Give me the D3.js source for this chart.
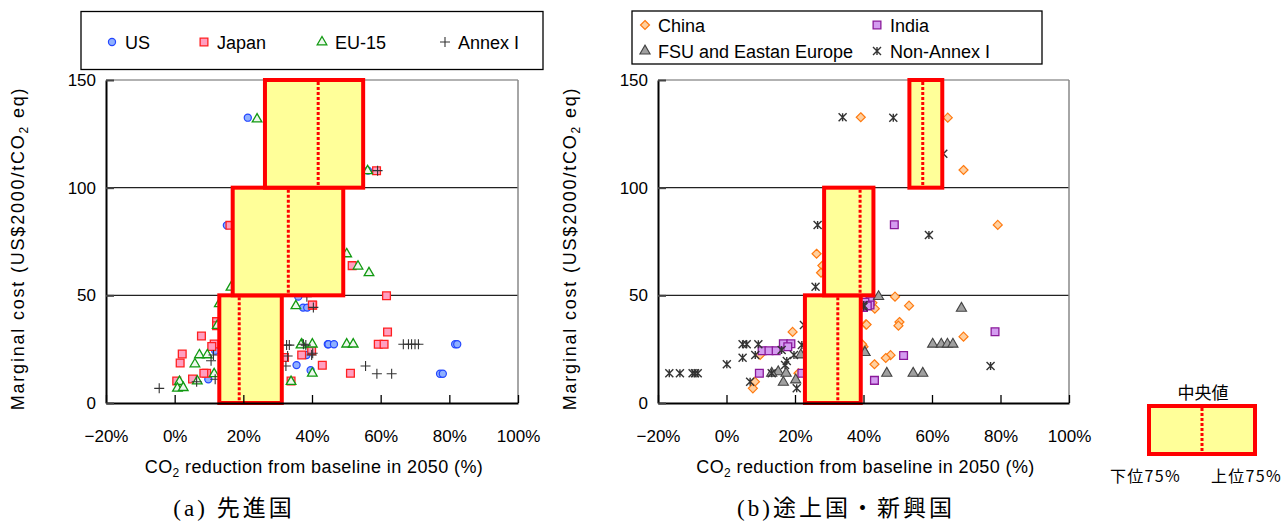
<!DOCTYPE html>
<html>
<head>
<meta charset="utf-8">
<script src="https://cdn.jsdelivr.net/npm/d3@7"></script>
<style>
  body { margin: 0; background: #fff; }
  svg { display: block; }
  text { font-family: "Liberation Sans", Arial, "Noto Sans CJK JP", sans-serif; fill: #000; }
</style>
</head>
<body>
<svg id="chart" width="1285" height="521"></svg>
<script>
// ---- data (x = CO2 reduction %, y = marginal cost US$/tCO2) ----
const usPts = [[21.3,132.5],[15.2,82.5],[56.3,107.9],[36.0,49.4],[37.4,44.3],[38.6,44.3],
  [44.6,27.3],[35.5,17.6],[39.6,15.2],[38.4,22.3],[11.8,24.3],[9.8,11.0],[44.8,27.3],
  [46.4,27.3],[81.7,27.3],[82.3,27.3],[77.3,13.6],[78.1,13.6]];
const japanPts = [[16.1,82.5],[58.8,107.9],[51.7,63.8],[61.7,49.8],[62.0,33.0],[59.3,27.3],
  [61.0,27.3],[43.0,17.5],[51.2,13.8],[40.2,45.4],[37.0,22.3],[39.9,24.3],[7.8,31.1],
  [2.2,22.8],[1.6,18.6],[0.6,10.2],[5.2,11.1],[9.3,13.8],[8.5,13.8],[11.5,27.4],[10.8,26.2],
  [12.2,37.8],[12.2,35.9],[32.0,21.1],[40.1,45.5],[33.9,10.2]];
const eu15Pts = [[24.0,131.8],[56.2,107.8],[50.1,69.2],[53.4,63.5],[56.6,60.4],[50.1,27.3],
  [52.0,27.3],[40.1,27.3],[40.1,13.8],[37.0,27.3],[16.4,53.7],[13.0,46.0],[12.4,35.9],
  [7.2,22.3],[9.5,22.3],[5.9,18.1],[1.4,9.9],[0.8,6.8],[2.5,7.1],[6.6,10.2],[11.5,13.5],
  [35.3,45.1],[36.8,26.9],[33.9,9.9]];
const annexIPts = [[59.1,107.9],[38.5,49.4],[40.4,44.4],[66.6,27.3],[68.1,27.3],[69.0,27.3],
  [70.0,27.3],[71.0,27.3],[55.6,17.2],[58.9,13.6],[63.2,13.6],[37.5,27.3],[39.9,22.3],
  [-4.5,6.8],[6.4,9.9],[10.6,19.6],[11.3,22.3],[11.8,11.0],[32.6,26.9],[33.4,26.9],
  [32.9,21.8],[32.4,17.2],[38.2,26.9],[40.2,23.1]];

const chinaPts = [[39.2,132.7],[64.6,132.5],[69.2,108.2],[79.2,82.7],[26.3,69.3],[28.0,63.8],
  [27.6,60.5],[19.3,33.0],[9.8,22.3],[8.3,9.9],[7.7,6.8],[21.0,13.8],[40.0,26.1],[40.7,36.5],
  [49.2,49.4],[53.3,45.2],[43.3,43.8],[42.6,46.5],[40.9,36.4],[50.5,37.6],[50.2,35.9],
  [69.2,30.8],[47.9,22.2],[46.5,20.9],[43.2,18.0],[39.6,27.3]];
const indiaPts = [[49.0,82.8],[41.9,47.4],[41.9,45.5],[78.4,33.1],[51.7,22.1],[43.2,10.5],
  [40.0,44.4],[16.6,27.5],[18.8,27.5],[10.4,24.3],[12.4,24.3],[14.5,24.3],[17.9,26.1],
  [9.6,13.8],[22.0,13.8],[40.4,46.8],[41.1,45.1]];
const fsuPts = [[44.4,49.4],[68.6,44.0],[60.2,27.3],[62.7,27.3],[64.5,27.3],[66.1,27.3],
  [40.4,23.5],[46.8,13.8],[54.5,13.8],[57.3,13.8],[15.1,14.5],[17.4,13.8],[16.6,9.6],
  [20.2,10.7],[13.2,13.8],[21.7,22.3],[40.4,23.4]];
const nonAnnexPts = [[33.9,132.7],[26.6,82.7],[48.7,132.5],[63.3,115.8],[59.1,78.0],[77.1,17.2],
  [40.0,45.5],[-16.7,13.8],[-13.6,13.8],[-9.9,13.8],[-9.2,13.8],[-8.4,13.8],[0.1,18.0],
  [4.7,27.3],[5.9,27.3],[9.3,27.3],[4.7,21.0],[8.4,22.3],[6.9,9.9],[13.2,13.8],[16.1,24.6],
  [17.6,19.5],[17.1,17.6],[19.7,22.3],[20.5,6.8],[22.0,26.9],[26.0,54.0],[22.6,36.2],[40.0,44.7]];

// boxes: [lower, median, upper] of reduction %, cost band [from, to]
const boxesDeveloped = [
  {band: [0, 50],    lo: 13.0, med: 18.8, hi: 31.2},
  {band: [50, 100],  lo: 16.9, med: 33.1, hi: 49.1},
  {band: [100, 150], lo: 26.3, med: 41.8, hi: 54.9}
];
const boxesDeveloping = [
  {band: [0, 50],    lo: 22.9, med: 32.5, hi: 39.2},
  {band: [50, 100],  lo: 28.5, med: 39.0, hi: 42.9},
  {band: [100, 150], lo: 53.4, med: 57.3, hi: 63.0}
];

const xTicks = [-20, 0, 20, 40, 60, 80, 100];
const yTicks = [0, 50, 100, 150];

// ---- marker painters ----
function plusPath(s) {
  return `M${-s},0H${s}M0,${-s}V${s}`;
}
function starPath(s) {
  // excel style star: an x with a vertical stroke through it
  return `M${-s},${-s}L${s},${s}M${-s},${s}L${s},${-s}M0,${-s}V${s}`;
}
function diamondPath(s) {
  return `M0,${-s}L${s},0L0,${s}L${-s},0Z`;
}

const styles = {
  us:     {d: d3.symbol(d3.symbolCircle, 40)(),   fill: "#8fb0ff", stroke: "#2346ff", sw: 1.2},
  japan:  {d: d3.symbol(d3.symbolSquare, 60)(),   fill: "#ff9fc0", stroke: "#ff2020", sw: 1.3},
  eu15:   {d: d3.symbol(d3.symbolTriangle, 40)(), fill: "#eef8ee", stroke: "#119911", sw: 1.3},
  annex:  {d: plusPath(5),                         fill: "none",    stroke: "#333", sw: 1.1},
  china:  {d: diamondPath(4.5),                    fill: "#ffd0a0", stroke: "#ff7a10", sw: 1.2},
  india:  {d: d3.symbol(d3.symbolSquare, 60)(),   fill: "#d49cf0", stroke: "#8a1a9a", sw: 1.3},
  fsu:    {d: d3.symbol(d3.symbolTriangle, 45)(), fill: "#a0a0a0", stroke: "#444", sw: 1.1},
  nonann: {d: starPath(4),                         fill: "none",    stroke: "#333", sw: 1.4}
};

const svg = d3.select("#chart");

function drawPoints(g, pts, st, x, y) {
  g.selectAll(null).data(pts).enter().append("path")
    .attr("d", st.d)
    .attr("transform", d => `translate(${x(d[0])},${y(d[1])})`)
    .attr("fill", st.fill)
    .attr("stroke", st.stroke)
    .attr("stroke-width", st.sw);
}

function drawBoxes(g, boxes, x, y) {
  boxes.forEach(b => {
    g.append("rect")
      .attr("x", x(b.lo)).attr("y", y(b.band[1]))
      .attr("width", x(b.hi) - x(b.lo))
      .attr("height", y(b.band[0]) - y(b.band[1]))
      .attr("fill", "#ffff99").attr("stroke", "#ff0000").attr("stroke-width", 4);
    g.append("line")
      .attr("x1", x(b.med)).attr("x2", x(b.med))
      .attr("y1", y(b.band[1]) + 2).attr("y2", y(b.band[0]) - 2)
      .attr("stroke", "#ff0000").attr("stroke-width", 3)
      .attr("stroke-dasharray", "3,2");
  });
}

function fmtPct(d) {
  return (d < 0 ? "\u2212" + Math.abs(d) : d) + "%";
}

function panel(left, right, series, boxes, caption, capX) {
  const x = d3.scaleLinear().domain([-20, 100]).range([left, right]);
  const y = d3.scaleLinear().domain([0, 150]).range([403, 80]);
  const g = svg.append("g");

  // gridlines + frame
  g.selectAll(null).data([50, 100]).enter().append("line")
    .attr("x1", left).attr("x2", right)
    .attr("y1", d => y(d)).attr("y2", d => y(d))
    .attr("stroke", "#222").attr("stroke-width", 1.2);
  g.append("line").attr("x1", left).attr("x2", right).attr("y1", y(150)).attr("y2", y(150))
    .attr("stroke", "#999").attr("stroke-width", 1.5);
  g.append("line").attr("x1", right).attr("x2", right).attr("y1", y(150)).attr("y2", y(0))
    .attr("stroke", "#888").attr("stroke-width", 1.5);

  series.forEach(s => drawPoints(g, s.pts, s.st, x, y));
  drawBoxes(g, boxes, x, y);

  const xa = g.append("g").attr("transform", `translate(0,${y(0)})`)
    .call(d3.axisBottom(x).tickValues(xTicks).tickFormat(fmtPct)
      .tickSizeInner(-8).tickSizeOuter(0).tickPadding(27));
  xa.select(".domain").attr("stroke", "#000").attr("stroke-width", 2);
  xa.selectAll(".tick line").attr("stroke", "#000").attr("stroke-width", 1.3);
  xa.selectAll("text").style("font-size", "17px").attr("fill", "#000");

  const ya = g.append("g").attr("transform", `translate(${left},0)`)
    .call(d3.axisLeft(y).tickValues(yTicks)
      .tickSizeInner(-8).tickSizeOuter(0).tickPadding(10));
  ya.select(".domain").attr("stroke", "#000").attr("stroke-width", 2);
  ya.selectAll(".tick line").attr("stroke", "#444").attr("stroke-width", 2);
  ya.selectAll("text").style("font-size", "17px").attr("fill", "#000");

  // axis titles
  const xt = g.append("text").attr("x", (left + right) / 2 + 2).attr("y", 473)
    .attr("text-anchor", "middle").style("font-size", "18px").style("letter-spacing", "0.4px");
  xt.append("tspan").text("CO");
  xt.append("tspan").text("2").style("font-size", "12px").attr("dy", 4);
  xt.append("tspan").text(" reduction from baseline in 2050 (%)").attr("dy", -4);

  const yt = g.append("text")
    .attr("transform", `translate(${left - 82},${(y(0) + y(150)) / 2 + 7}) rotate(-90)`)
    .attr("text-anchor", "middle").style("font-size", "18px").style("letter-spacing", "1.8px");
  yt.append("tspan").text("Marginal cost (US$2000/tCO");
  yt.append("tspan").text("2").style("font-size", "12px").attr("dy", 4);
  yt.append("tspan").text(" eq)").attr("dy", -4);

  g.append("text").attr("x", capX).attr("y", 516).attr("text-anchor", "middle")
    .style("font-family", "'Liberation Serif', 'Noto Sans CJK JP', serif")
    .style("font-size", "23px").style("letter-spacing", "3px").text(caption);
}

panel(106, 518, [
  {pts: usPts, st: styles.us},
  {pts: japanPts, st: styles.japan},
  {pts: eu15Pts, st: styles.eu15},
  {pts: annexIPts, st: styles.annex}
], boxesDeveloped, "(a)  先進国", 234);

panel(658, 1069, [
  {pts: chinaPts, st: styles.china},
  {pts: indiaPts, st: styles.india},
  {pts: fsuPts, st: styles.fsu},
  {pts: nonAnnexPts, st: styles.nonann}
], boxesDeveloping, "(b)途上国・新興国", 846);

// ---- legends ----
function legendItem(mx, my, st, label) {
  svg.append("path").attr("d", st.d).attr("transform", `translate(${mx},${my})`)
    .attr("fill", st.fill).attr("stroke", st.stroke).attr("stroke-width", st.sw);
  svg.append("text").attr("x", mx + 13).attr("y", my + 6.5).style("font-size", "18px").text(label);
}

svg.append("rect").attr("x", 81).attr("y", 11.5).attr("width", 462).attr("height", 58)
  .attr("fill", "#fff").attr("stroke", "#000").attr("stroke-width", 1.3);
legendItem(112, 42, styles.us, "US");
legendItem(204, 42, styles.japan, "Japan");
legendItem(322, 42, styles.eu15, "EU-15");
legendItem(445, 42, styles.annex, "Annex I");

svg.append("rect").attr("x", 632).attr("y", 11).attr("width", 410).attr("height", 53)
  .attr("fill", "#fff").attr("stroke", "#000").attr("stroke-width", 1.3);
legendItem(645, 25, styles.china, "China");
legendItem(877, 25, styles.india, "India");
legendItem(645, 51, styles.fsu, "FSU and Eastan Europe");
legendItem(877, 51, styles.nonann, "Non-Annex I");

// box key
const key = svg.append("g");
key.append("text").attr("x", 1203).attr("y", 399).attr("text-anchor", "middle")
  .style("font-size", "17px").style("font-family", "'Noto Sans CJK JP', sans-serif").text("中央値");
key.append("rect").attr("x", 1149).attr("y", 406).attr("width", 106).attr("height", 48)
  .attr("fill", "#ffff99").attr("stroke", "#ff0000").attr("stroke-width", 4);
key.append("line").attr("x1", 1202).attr("x2", 1202).attr("y1", 408).attr("y2", 452)
  .attr("stroke", "#ff0000").attr("stroke-width", 3).attr("stroke-dasharray", "3,2");
key.append("text").attr("x", 1110).attr("y", 482).style("letter-spacing", "1.3px")
  .style("font-size", "16px").style("font-family", "'Noto Sans CJK JP', sans-serif").text("下位75%");
key.append("text").attr("x", 1211).attr("y", 482).style("letter-spacing", "1.3px")
  .style("font-size", "16px").style("font-family", "'Noto Sans CJK JP', sans-serif").text("上位75%");
</script>
</body>
</html>
